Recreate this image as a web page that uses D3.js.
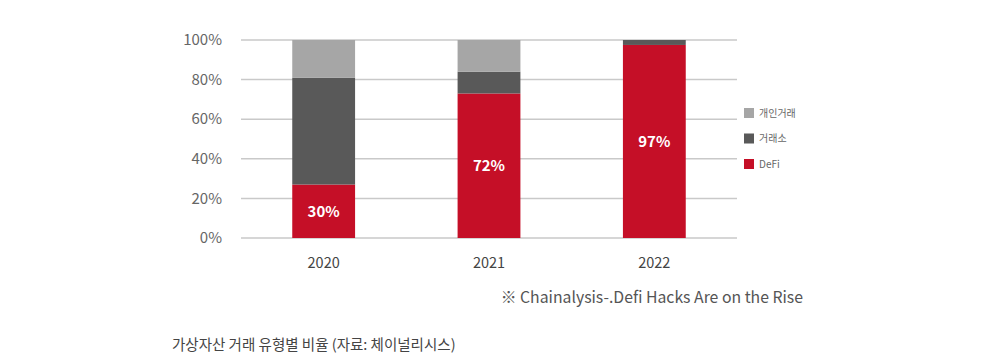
<!DOCTYPE html>
<html>
<head>
<meta charset="utf-8">
<script src="https://cdn.jsdelivr.net/npm/d3@7"></script>
<style>
  body { margin: 0; background: #fff; font-family: "Noto Sans CJK KR", "Noto Sans", sans-serif; }
</style>
</head>
<body>
<div id="graph"></div>
<script>
// data
const years = ["2020", "2021", "2022"];
const defi = [27, 73, 97.5];
const exchange = [54, 11, 2.5];
const personal = [19, 16, 0];
const barLabels = ["30%", "72%", "97%"];
const seriesNames = ["개인거래", "거래소", "DeFi"];
const yTicks = [0, 20, 40, 60, 80, 100];

const colors = { "DeFi": "#c50f27", "거래소": "#595959", "개인거래": "#a6a6a6" };

let W = 1001, H = 362;
let margin = { top: 40, left: 241, right: 264, bottom: 124 },
  width = W - margin.left - margin.right,
  height = H - margin.top - margin.bottom;

let svgRoot = d3.select("#graph").append("svg").attr("width", W).attr("height", H);
let svg = svgRoot.append("g").attr("transform", "translate(" + margin.left + "," + margin.top + ")");

let rows = years.map((y, i) => ({ year: y, "DeFi": defi[i], "거래소": exchange[i], "개인거래": personal[i] }));

let x = d3.scaleBand().domain(years).range([0, width]).paddingInner(0.62).paddingOuter(0.31);
let y = d3.scaleLinear().domain([0, 100]).range([height, 0]);

// gridlines
svg.append("g")
  .selectAll("line")
  .data(yTicks)
  .enter()
  .append("line")
  .attr("x1", 0)
  .attr("x2", width)
  .attr("y1", (d) => y(d))
  .attr("y2", (d) => y(d))
  .attr("stroke", "#c9c9c9")
  .attr("stroke-width", 1.5);

// y labels
svg.append("g")
  .selectAll("text")
  .data(yTicks)
  .enter()
  .append("text")
  .attr("x", -19)
  .attr("y", (d) => y(d))
  .attr("dy", "0.35em")
  .attr("text-anchor", "end")
  .style("font-size", "15px")
  .style("fill", "#666")
  .text((d) => d + "%");

// stacked bars
let stacked = d3.stack().keys(["DeFi", "거래소", "개인거래"])(rows);
svg.append("g")
  .selectAll("g")
  .data(stacked)
  .enter()
  .append("g")
  .attr("fill", (d) => colors[d.key])
  .selectAll("rect")
  .data((d) => d)
  .enter()
  .append("rect")
  .attr("x", (d) => x(d.data.year))
  .attr("y", (d) => y(d[1]))
  .attr("height", (d) => y(d[0]) - y(d[1]))
  .attr("width", x.bandwidth());

// value labels inside the red bars
svg.append("g")
  .selectAll("text")
  .data(years)
  .enter()
  .append("text")
  .attr("x", (d) => x(d) + x.bandwidth() / 2)
  .attr("y", (d, i) => (y(0) + y(defi[i])) / 2)
  .attr("dy", "0.35em")
  .attr("text-anchor", "middle")
  .style("font-size", "15px")
  .style("font-weight", "bold")
  .style("fill", "#fff")
  .text((d, i) => barLabels[i]);

// x labels
svg.append("g")
  .selectAll("text")
  .data(years)
  .enter()
  .append("text")
  .attr("x", (d) => x(d) + x.bandwidth() / 2)
  .attr("y", height + 30)
  .attr("text-anchor", "middle")
  .style("font-size", "14.5px")
  .style("fill", "#444")
  .text((d) => d);

// legend
let legendX = width + 7, legendY = 73, gap = 25.5, box = 10;
svg.selectAll("legendbox")
  .data(seriesNames)
  .enter()
  .append("rect")
  .attr("x", legendX)
  .attr("y", (d, i) => legendY + i * gap - box / 2)
  .attr("width", box)
  .attr("height", box)
  .style("fill", (d) => colors[d]);
svg.selectAll("legendtext")
  .data(seriesNames)
  .enter()
  .append("text")
  .attr("x", legendX + 15)
  .attr("y", (d, i) => legendY + i * gap)
  .attr("dy", "0.35em")
  .style("font-size", "10px")
  .style("fill", "#666")
  .text((d) => d);

// source note
svgRoot.append("text")
  .attr("x", 803)
  .attr("y", 303)
  .attr("text-anchor", "end")
  .style("font-size", "15.8px")
  .style("fill", "#555")
  .text("※ Chainalysis-.Defi Hacks Are on the Rise");

// caption
svgRoot.append("text")
  .attr("x", 172)
  .attr("y", 350)
  .style("font-size", "14.5px")
  .style("fill", "#444")
  .text("가상자산 거래 유형별 비율 (자료: 체이널리시스)");
</script>
</body>
</html>
